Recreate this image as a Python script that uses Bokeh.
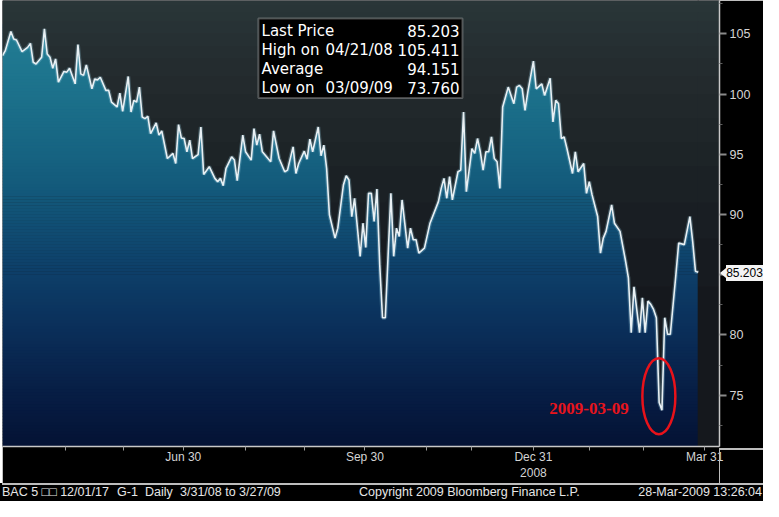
from bokeh.plotting import figure
from bokeh.layouts import column
from bokeh.models import Range1d, FixedTicker, Label, BoxAnnotation, Div
from bokeh.embed import file_html
from bokeh.resources import INLINE

# ---------------- data ----------------
trading_day = [0, 1, 3, 4, 5, 7, 9, 10, 11, 12, 14, 15, 16, 17, 18, 19, 20, 22, 23, 24,
               26, 27, 28, 29, 30, 32, 33, 34, 35, 37, 38, 39, 41, 42, 43, 45, 46, 47, 48, 49,
               50, 51, 52, 53, 55, 56, 57, 59, 61, 62, 63, 64, 65, 66, 67, 68, 70, 71, 72, 74,
               76, 77, 78, 79, 80, 82, 83, 84, 86, 87, 89, 90, 91, 92, 93, 96, 97, 99, 101, 102,
               104, 105, 106, 108, 109, 110, 111, 113, 114, 115, 116, 117, 119, 120, 122, 123, 124, 125, 126, 128,
               129, 130, 131, 132, 133, 134, 135, 136, 137, 139, 140, 141, 142, 143, 145, 146, 147, 148, 149, 151,
               153, 156, 157, 158, 159, 160, 161, 163, 164, 165, 166, 168, 169, 170, 171, 172, 173, 174, 175, 176,
               177, 178, 179, 181, 182, 183, 184, 185, 186, 187, 188, 190, 191, 193, 194, 196, 197, 198, 199, 200,
               201, 202, 204, 205, 206, 208, 209, 210, 211, 213, 214, 215, 216, 218, 219, 221, 223, 224, 225, 226,
               228, 229, 230, 231, 232, 233, 234, 235, 236, 237, 238, 239, 241, 242, 244, 246, 247, 248, 249]
price = [103.20, 103.61, 105.20, 104.57, 104.49, 103.53, 103.88, 104.21, 102.64, 102.50,
         103.06, 105.411, 103.33, 103.06, 102.15, 102.92, 100.99, 101.88, 101.82, 102.15,
         100.85, 104.11, 101.68, 101.55, 102.42, 100.44, 101.26, 101.18, 101.40, 100.31,
         100.31, 99.34, 98.93, 100.08, 98.57, 101.46, 98.51, 99.48, 99.34, 100.58,
         98.10, 97.96, 98.16, 96.72, 97.60, 96.59, 96.94, 94.65, 95.07, 94.24,
         97.46, 96.36, 96.31, 95.21, 96.17, 94.65, 94.98, 97.27, 93.33, 93.97,
         93.00, 92.73, 93.00, 92.40, 93.83, 94.79, 94.52, 92.81, 96.59, 95.21,
         94.52, 97.13, 95.76, 96.67, 95.21, 94.38, 96.94, 94.65, 93.55, 93.69,
         95.62, 93.41, 94.24, 95.26, 94.60, 96.26, 95.21, 97.27, 94.88, 95.76,
         93.83, 89.98, 88.04, 88.87, 92.45, 93.22, 92.87, 89.83, 91.35, 86.53,
         89.28, 87.27, 91.76, 91.76, 89.42, 92.12, 85.84, 81.43, 81.43, 91.76,
         86.53, 88.87, 88.18, 91.21, 87.21, 88.87, 87.91, 87.91, 86.80, 87.21,
         89.28, 91.07, 92.17, 93.00, 91.35, 93.14, 91.21, 93.55, 93.69, 98.51,
         91.90, 95.48, 95.07, 96.31, 95.21, 93.69, 95.21, 95.21, 96.45, 94.65,
         94.38, 92.17, 98.93, 100.58, 99.89, 99.20, 100.58, 100.72, 100.44, 98.65,
         100.17, 102.73, 100.44, 100.85, 99.89, 101.32, 97.69, 99.48, 99.20, 96.31,
         96.45, 95.48, 93.41, 95.21, 93.55, 94.24, 91.76, 92.73, 91.63, 89.83,
         86.80, 88.04, 88.60, 90.80, 89.28, 88.60, 86.12, 84.74, 80.19, 84.00,
         80.19, 83.08, 80.19, 82.81, 82.54, 82.12, 81.43, 74.40, 73.76, 81.43,
         80.06, 80.06, 85.02, 87.63, 87.50, 89.83, 87.77, 85.29, 85.203]

month_tick_day = [22.4, 43.3, 64.7, 86.9, 108.0, 129.7, 151.6, 167.7, 190.0, 209.9, 229.5, 251.3]
month_tick_label = ["", "", "Jun 30", "", "", "Sep 30", "", "", "Dec 31\n2008", "", "", "Mar 31"]

price_ticks = [75, 80, 85, 90, 95, 100, 105]

stat_names = ["Last Price", "High on", "Average", "Low on"]
stat_dates = ["", "04/21/08", "", "03/09/09"]
stat_values = ["85.203", "105.411", "94.151", "73.760"]
last_price = 85.203

low_label = "2009-03-09"

footer_texts = ["BAC 5 \u25a1\u25a1 12/01/17", "G-1", "Daily", "3/31/08 to 3/27/09",
                "Copyright 2009 Bloomberg Finance L.P.", "28-Mar-2009 13:26:04"]

# ---------------- styling / layout constants ----------------
W_ALL = 763                 # footer strip width (page x 8 .. 771)
FIG_SHIFT = 2               # figure starts 2px right of the footer (white strip on the left)
W, FIG_H, FOOT_H = W_ALL - FIG_SHIFT, 483, 18
FRAME_W, FRAME_H = 717, 448
X_START, X_END = 0.0, 256.6
Y_BOTTOM, Y_TOP = 70.74, 107.77
DARK = "#15181d"
LINE_GREY = "#bdbdbd"

p = figure(width=W, height=FIG_H, title=None, margin=(0, 0, 0, FIG_SHIFT),
           x_range=Range1d(X_START, X_END), y_range=Range1d(Y_BOTTOM, Y_TOP),
           y_axis_location="right", toolbar_location=None, output_backend="svg",
           min_border_left=0, min_border_right=W - FRAME_W, min_border_top=0,
           min_border_bottom=FIG_H - FRAME_H)
p.grid.visible = False
p.outline_line_color = None
p.background_fill_color = DARK
p.border_fill_color = "black"

# vertical gradient of the area fill, as thin horizontal bands
stops_v = [70.7, 75.0, 80.0, 85.0, 90.0, 95.0, 100.0, 105.0, 108.0]
stops_rgb = [(4, 18, 52), (7, 29, 68), (10, 45, 88), (13, 62, 104), (17, 82, 118),
             (22, 99, 129), (28, 113, 139), (33, 124, 147), (37, 131, 152)]


def color_at(v):
    for i in range(len(stops_v) - 1):
        if stops_v[i] <= v <= stops_v[i + 1]:
            t = (v - stops_v[i]) / (stops_v[i + 1] - stops_v[i])
            a, b = stops_rgb[i], stops_rgb[i + 1]
            return "#%02x%02x%02x" % tuple(int(round(a[k] + (b[k] - a[k]) * t)) for k in range(3))
    return "#%02x%02x%02x" % stops_rgb[-1]


step = 0.25
b_bottom, b_top, b_col = [], [], []
v = Y_BOTTOM
while v < max(price) + step:
    b_bottom.append(v)
    b_top.append(v + step * 1.15)
    b_col.append(color_at(v + step / 2))
    v += step
n_b = len(b_bottom)
p.quad(left=[trading_day[0]] * n_b, right=[trading_day[-1]] * n_b,
       bottom=b_bottom, top=b_top, fill_color=b_col, line_color=None)

# dark area above the price line, and right of the last day
p.varea(x=trading_day, y1=price, y2=[Y_TOP] * len(price), fill_color=DARK)
p.quad(left=[trading_day[-1] - 0.2], right=[X_END], bottom=[Y_BOTTOM], top=[Y_TOP],
       fill_color=DARK, line_color=None)

# faint slate haze, stronger towards the top (stacked translucent layers above the line)
haze_from = [84, 88, 91, 94, 96, 98, 100, 101.5, 103, 104, 105, 106, 106.8, 107.4]
for lo in haze_from:
    p.varea(x=trading_day, y1=[max(pv, lo) for pv in price], y2=[Y_TOP] * len(price),
            fill_color="#3e4e5c", fill_alpha=0.06)
    p.quad(left=[trading_day[-1] - 0.1], right=[X_END], bottom=[lo], top=[Y_TOP],
           fill_color="#3e4e5c", fill_alpha=0.06, line_color=None)

# price line with a soft glow
p.line(trading_day, price, line_color="#8fc3d8", line_width=4, line_alpha=0.3)
p.line(trading_day, price, line_color="#e8f0f4", line_width=1.6)

# ---------------- axes ----------------
xa = p.xaxis[0]
xa.ticker = FixedTicker(ticks=[d for d, l in zip(month_tick_day, month_tick_label) if l],
                        minor_ticks=[d for d, l in zip(month_tick_day, month_tick_label) if not l])
xa.major_label_overrides = {d: l for d, l in zip(month_tick_day, month_tick_label) if l}
xa.axis_line_color = "#c8c8c8"
xa.axis_line_width = 1.5
xa.major_tick_in = 0
xa.major_tick_out = 4
xa.minor_tick_in = 0
xa.minor_tick_out = 4
xa.major_tick_line_color = "#9a9a9a"
xa.minor_tick_line_color = "#9a9a9a"
xa.major_label_standoff = -1
xa.major_label_text_color = "#d4d4d4"
xa.major_label_text_font = "Liberation Sans"
xa.major_label_text_font_size = "12px"

ya = p.yaxis[0]
ya.ticker = FixedTicker(ticks=price_ticks,
                        minor_ticks=[t - 2.5 for t in price_ticks] + [price_ticks[-1] + 2.5])
ya.axis_line_color = "#c8c8c8"
ya.axis_line_width = 1.5
ya.major_tick_in = 0
ya.major_tick_out = 7
ya.major_tick_line_color = "#8a8a8a"
ya.major_tick_line_width = 2
ya.minor_tick_in = 0
ya.minor_tick_out = 3
ya.minor_tick_line_color = "#5e5e5e"
ya.major_label_standoff = 3
ya.major_label_text_color = "#d4d4d4"
ya.major_label_text_font = "Liberation Sans"
ya.major_label_text_font_size = "12.5px"

# ---------------- stats box ----------------
p.add_layout(BoxAnnotation(left=91.6, right=164.6, bottom=99.67, top=106.28,
                           fill_color="black", fill_alpha=1.0,
                           line_color="#e6e6e6", line_width=2))
row_y = [105.21, 103.64, 102.07, 100.50]
for name, date, val, yy in zip(stat_names, stat_dates, stat_values, row_y):
    common = dict(y=yy, text_baseline="middle", text_color="white",
                  text_font="DejaVu Sans", text_font_size="15px")
    p.add_layout(Label(x=92.7, text=name, text_align="left", **common))
    if date:
        p.add_layout(Label(x=115.6, text=date, text_align="left", **common))
    p.add_layout(Label(x=163.6, text=val, text_align="right", **common))

# ---------------- low annotation ----------------
p.ellipse(x=[234.9], y=[74.92], width=33, height=76, width_units="screen", height_units="screen",
          fill_color=None, line_color="#e8121a", line_width=2.5)
p.add_layout(Label(x=195.7, y=73.88, text=low_label, text_align="left", text_baseline="middle",
                   text_color="#e8141c", text_font="Liberation Serif", text_font_style="bold",
                   text_font_size="17px"))

# ---------------- footer (HTML strip under the figure) ----------------
# pixel position of the last price on the right axis (same mapping as the y range)
last_px = (Y_TOP - last_price) / (Y_TOP - Y_BOTTOM) * FRAME_H
marker_top = last_px - FIG_H            # relative to the footer strip
axis_x = FIG_SHIFT + FRAME_W            # right axis line, footer coordinates
below_h = FIG_H - FRAME_H

footer_x = [2, 117, 145, 180, 359]
spans = []
for txt, fx in zip(footer_texts[:-1], footer_x):
    spans.append(f'<span style="position:absolute;left:{fx}px;top:2px;white-space:pre">{txt}</span>')
spans.append(f'<span style="position:absolute;right:1px;top:2px;white-space:pre">{footer_texts[-1]}</span>')

extras = (
    f'<div style="position:absolute;left:{FIG_SHIFT}px;top:0;width:{W_ALL - FIG_SHIFT}px;height:1.5px;'
    f'background:{LINE_GREY}"></div>'
    f'<div style="position:absolute;left:{axis_x - 0.5}px;top:{-below_h}px;width:1.5px;'
    f'height:{below_h}px;background:{LINE_GREY}"></div>'
    f'<div style="position:absolute;left:{axis_x}px;top:{-below_h}px;width:{W_ALL - axis_x}px;'
    f'height:1.5px;background:{LINE_GREY}"></div>'
    f'<div style="position:absolute;left:{axis_x + 1}px;top:{marker_top - 5:.1f}px;width:0;height:0;'
    f'border-top:5px solid transparent;border-bottom:5px solid transparent;border-right:6px solid #f4f4f4"></div>'
    f'<div style="position:absolute;left:{axis_x + 7}px;top:{marker_top - 8:.1f}px;width:{W_ALL - axis_x - 7}px;'
    f'height:16px;background:#f4f4f4;color:#000;font-family:\'Liberation Sans\';font-size:12px;'
    f'line-height:16px;text-align:center">{last_price:.3f}</div>'
)

html = (f'<div style="position:relative;width:{W_ALL}px;height:{FOOT_H}px;background:#000;overflow:visible;'
        f'font-family:\'Liberation Sans Narrow\',\'Liberation Sans\',sans-serif;font-size:12.5px;'
        f'line-height:14px;color:#e6e6e6">' + extras + "".join(spans) + '</div>')
footer = Div(text=html, width=W_ALL, height=FOOT_H, margin=0, styles={"overflow": "visible"})

page = column(p, footer, spacing=0)
open("out.html", "w").write(file_html(page, INLINE))
